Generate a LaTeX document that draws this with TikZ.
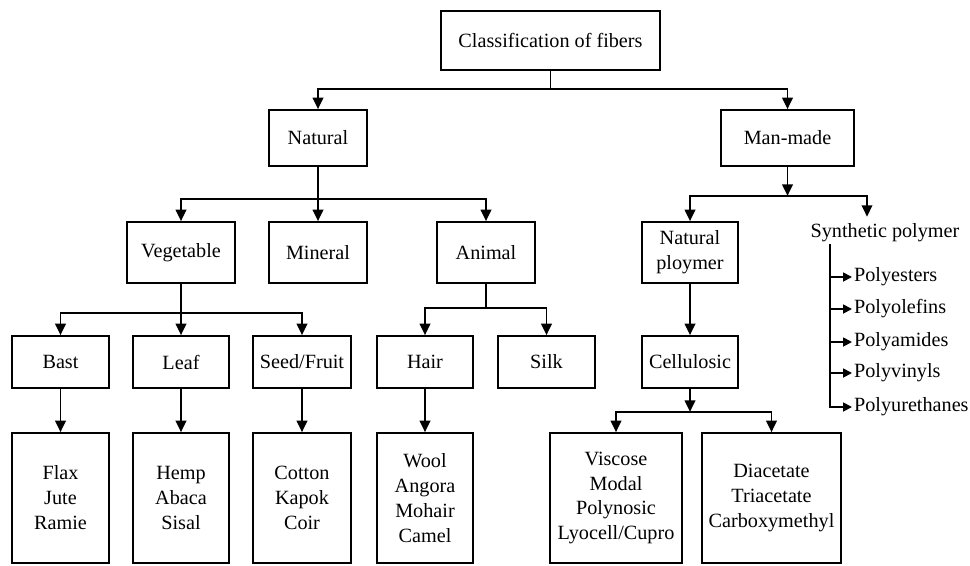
\documentclass[tikz,border=0pt]{standalone}
\usepackage{fontspec}
\setmainfont{Liberation Serif}
\usetikzlibrary{arrows.meta}
\begin{document}
\begin{tikzpicture}[x=0.02cm,y=-0.02cm,
    font=\fontsize{11.5}{14.2}\selectfont,
    box/.style={draw,line width=1pt,align=center,inner sep=2pt},
    arr/.style={-{Triangle[length=6.5pt,width=6pt]}},
    smallarr/.style={-{Triangle[length=5pt,width=5pt]}},
    item/.style={anchor=west,inner sep=1pt}]
  \useasboundingbox (0,0) rectangle (970,565);
  \node[box,minimum width=4.38cm,minimum height=1.18cm] (root) at (550.5,40.5) {Classification of fibers};
  \node[box,minimum width=1.96cm,minimum height=1.12cm] (natural) at (318,138) {Natural};
  \node[box,minimum width=2.66cm,minimum height=1.12cm] (manmade) at (787.5,138) {Man-made};
  \node[box,minimum width=2.16cm,minimum height=1.22cm] (vegetable) at (181,252.5) {Vegetable};
  \node[box,minimum width=1.96cm,minimum height=1.22cm] (mineral) at (318,252.5) {Mineral};
  \node[box,minimum width=1.96cm,minimum height=1.22cm] (animal) at (486,252.5) {Animal};
  \node[box,minimum width=1.92cm,minimum height=1.22cm] (natpoly) at (690,252.5) {Natural\\ploymer};
  \node[inner sep=1pt] (synpoly) at (885,233) {Synthetic polymer};
  \node[box,minimum width=1.94cm,minimum height=1.04cm] (bast) at (60.5,362) {Bast};
  \node[box,minimum width=1.92cm,minimum height=1.04cm] (leaf) at (181,362) {Leaf};
  \node[box,minimum width=1.96cm,minimum height=1.04cm] (seed) at (302,362) {Seed/Fruit};
  \node[box,minimum width=1.92cm,minimum height=1.04cm] (hair) at (425,362) {Hair};
  \node[box,minimum width=1.94cm,minimum height=1.04cm] (silk) at (546.5,362) {Silk};
  \node[box,minimum width=1.92cm,minimum height=1.04cm] (cellulosic) at (690,362) {Cellulosic};
  \node[box,minimum width=1.94cm,minimum height=2.60cm] (flax) at (60.5,498) {Flax\\Jute\\Ramie};
  \node[box,minimum width=1.92cm,minimum height=2.60cm] (hemp) at (181,498) {Hemp\\Abaca\\Sisal};
  \node[box,minimum width=1.96cm,minimum height=2.60cm] (cotton) at (302,498) {Cotton\\Kapok\\Coir};
  \node[box,minimum width=1.92cm,minimum height=2.60cm] (wool) at (425,498) {Wool\\Angora\\Mohair\\Camel};
  \node[box,minimum width=2.64cm,minimum height=2.60cm] (viscose) at (616,498) {Viscose\\Modal\\Polynosic\\Lyocell/Cupro};
  \node[box,minimum width=2.78cm,minimum height=2.60cm] (diacetate) at (771.5,498) {Diacetate\\Triacetate\\Carboxymethyl};
  \node[item] (pes) at (852,277) {Polyesters};
  \node[item] (pol) at (852,309) {Polyolefins};
  \node[item] (pam) at (852,342) {Polyamides};
  \node[item] (pvi) at (852,373) {Polyvinyls};
  \node[item] (pur) at (852,407) {Polyurethanes};
  \begin{scope}[line width=1pt]
    \draw (root.south) -- ++(0,18) coordinate (j0);
    \draw[arr] (j0) -| (natural.north);
    \draw[arr] (j0) -| (manmade.north);
    \draw (natural.south) -- ++(0,32) coordinate (j1);
    \draw[arr] (j1) -| (vegetable.north);
    \draw[arr] (j1) -- (mineral.north);
    \draw[arr] (j1) -| (animal.north);
    \draw[arr] (manmade.south) -- ++(0,29) coordinate (j2);
    \draw[arr] (j2) -| (natpoly.north);
    \draw[arr] (j2) -| ([xshift=-0.36cm,yshift=0.1cm]synpoly.north);
    \draw (vegetable.south) -- ++(0,29) coordinate (j3);
    \draw[arr] (j3) -| (bast.north);
    \draw[arr] (j3) -- (leaf.north);
    \draw[arr] (j3) -| (seed.north);
    \draw (animal.south) -- ++(0,24) coordinate (j4);
    \draw[arr] (j4) -| (hair.north);
    \draw[arr] (j4) -| (silk.north);
    \draw[arr] (natpoly) -- (cellulosic);
    \draw[arr] (cellulosic.south) -- ++(0,23) coordinate (j5);
    \draw[arr] (j5) -| (viscose.north);
    \draw[arr] (j5) -| (diacetate.north);
    \draw[arr] (bast) -- (flax);
    \draw[arr] (leaf) -- (hemp);
    \draw[arr] (seed) -- (cotton);
    \draw[arr] (hair) -- (wool);
    \coordinate (spine) at ([xshift=-1.1cm]synpoly.south);
    \draw[smallarr] (spine |- pes.west) -- (pes.west);
    \draw[smallarr] (spine |- pol.west) -- (pol.west);
    \draw[smallarr] (spine |- pam.west) -- (pam.west);
    \draw[smallarr] (spine |- pvi.west) -- (pvi.west);
    \draw[smallarr] (spine) |- (pur.west);
  \end{scope}
\end{tikzpicture}
\end{document}
